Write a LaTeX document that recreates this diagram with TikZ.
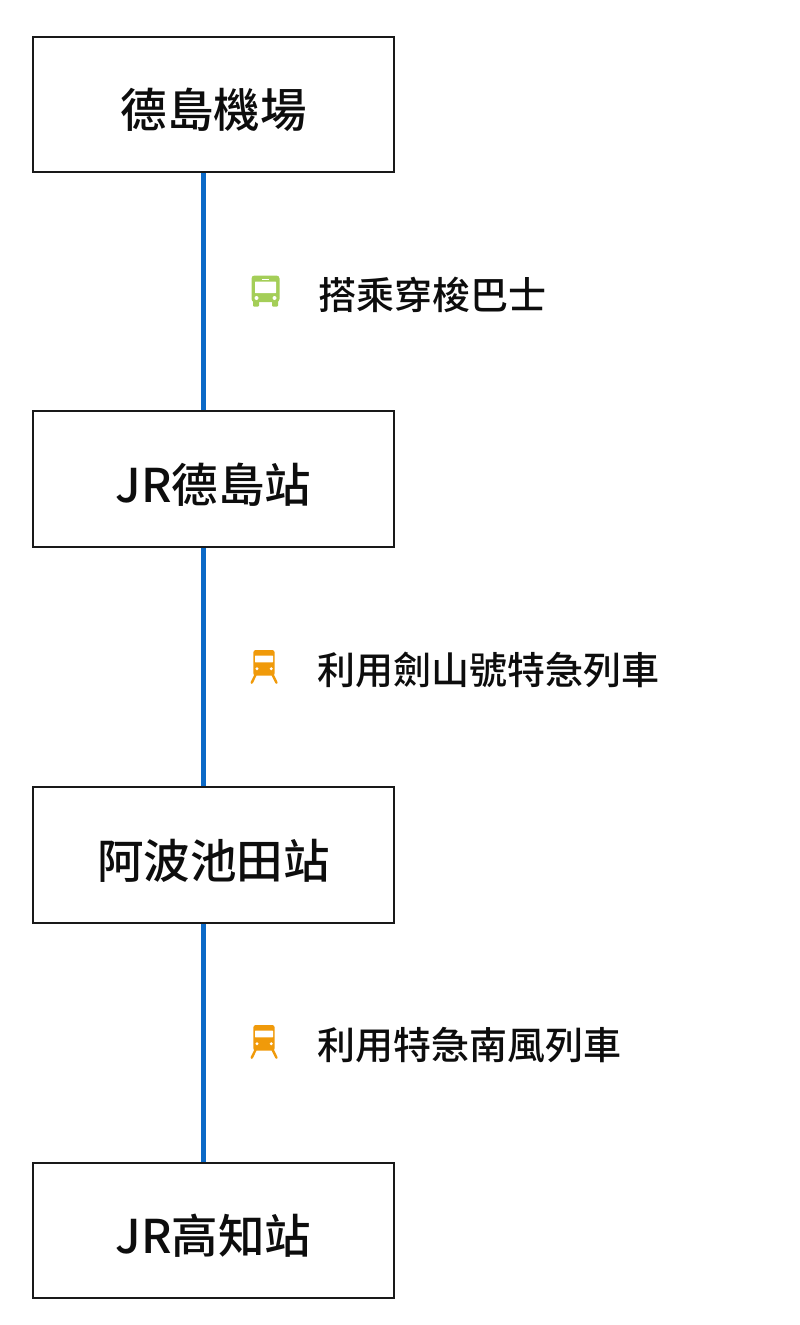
\documentclass[tikz,border=0pt]{standalone}
\usepackage{fontspec}
\setmainfont{Noto Sans CJK TC Medium}
\definecolor{lineblue}{HTML}{0B69C7}
\definecolor{busgreen}{HTML}{A4CE58}
\definecolor{trainorange}{HTML}{F09A0A}
\tikzset{
  stationbox/.style={draw=black!90,line width=2pt,fill=white,minimum width=361pt,minimum height=135.5pt,inner sep=0pt,font=\fontsize{46.5pt}{46pt}\selectfont,text=black!95,text height=46.5pt,text depth=0pt},
  routeline/.style={draw=lineblue,line width=5pt},
  routelabel/.style={anchor=west,inner sep=0pt,font=\fontsize{38pt}{38pt}\selectfont,text=black!95},
  busicon/.pic={
    \fill[busgreen,rounded corners=3pt] (-14,-15.5) rectangle (14,11);
    \fill[busgreen,rounded corners=1pt] (-12.5,9) rectangle (-6.5,15.5);
    \fill[busgreen,rounded corners=1pt] (6.5,9) rectangle (12.5,15.5);
    \fill[white,rounded corners=.5pt] (-10.5,-9.5) rectangle (10.5,2);
    \fill[white] (-3.5,-12.5) rectangle (3.5,-10.7);
    \fill[white] (-9,7) circle (2pt) (9,7) circle (2pt);
  },
  trainicon/.pic={
    \fill[trainorange,rounded corners=2.5pt] (-10.7,-13) rectangle (10.7,12.7);
    \fill[white,rounded corners=.5pt] (-9,-7.3) rectangle (9,-.7);
    \fill[white] (-7,5.7) circle (1.6pt) (7.3,5.7) circle (1.6pt);
    \draw[trainorange,line width=2.4pt,line cap=round] (-8.5,12) -- (-12.3,19.7) (8.7,12) -- (12.5,19.7);
  }
}
\begin{document}
\begin{tikzpicture}[x=1pt,y=-1pt]
\useasboundingbox (0,0) rectangle (800,1325);

\node[stationbox] (airport) at (213.5,104.5) {德島機場};
\node[stationbox] (tokushima) at (213.5,479) {JR德島站};
\node[stationbox] (ikeda) at (213.5,855) {阿波池田站};
\node[stationbox] (kochi) at (213.5,1230.5) {JR高知站};

\draw[routeline] (airport.south -| 203,0) -- (tokushima.north -| 203,0);
\draw[routeline] (tokushima.south -| 203,0) -- (ikeda.north -| 203,0);
\draw[routeline] (ikeda.south -| 203,0) -- (kochi.north -| 203,0);

\pic at (265.5,291) {busicon};
\pic at (264,663) {trainicon};
\pic at (264,1038) {trainicon};

\node[routelabel] (shuttle) at (318,295) {搭乘穿梭巴士};
\node[routelabel] (tsurugi) at (317,670) {利用劍山號特急列車};
\node[routelabel] (nanpu) at (317,1045) {利用特急南風列車};
\end{tikzpicture}
\end{document}
